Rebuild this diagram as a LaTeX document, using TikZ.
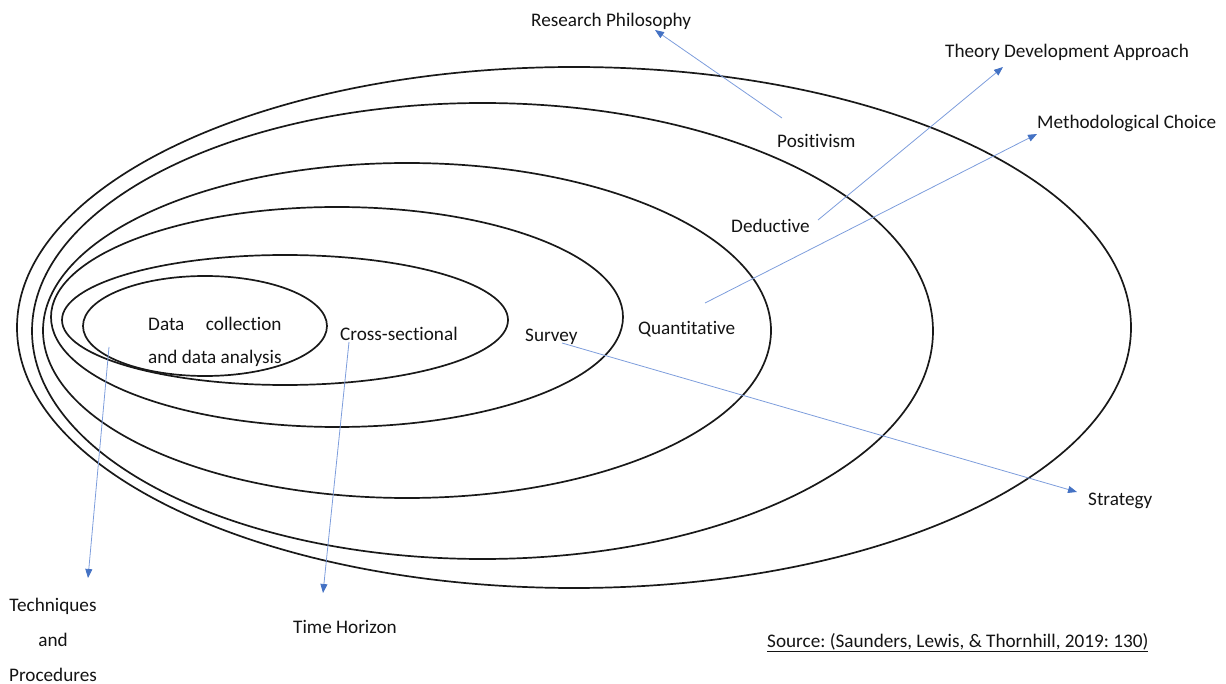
\documentclass[tikz,border=0pt]{standalone}
\usepackage{fontspec}
\setmainfont[Ligatures=NoCommon]{Carlito}
\usetikzlibrary{arrows.meta}
\definecolor{ringc}{RGB}{25,25,25}
\definecolor{arrc}{RGB}{125,157,220}
\definecolor{tipc}{RGB}{68,114,196}
\definecolor{txtc}{RGB}{20,20,20}
\tikzset{
  ring/.style={draw=ringc, line width=1.7pt},
  lbl/.style={font=\fontsize{19.2}{23}\selectfont, inner sep=0pt, anchor=base west, text=txtc},
  pointer/.style={draw=arrc, line width=0.8pt, -{Triangle[length=9pt,width=7pt,fill=tipc,color=tipc]}},
}
\frenchspacing
\begin{document}
\begin{tikzpicture}[x=1pt,y=-1pt]
\useasboundingbox (0,0) rectangle (1226,684);
% rings
\draw[ring] (574,327.5) ellipse [x radius=557pt, y radius=260.5pt];
\draw[ring] (482.5,331) ellipse [x radius=450.5pt, y radius=228pt];
\draw[ring] (407,330.5) ellipse [x radius=364pt, y radius=167.5pt];
\draw[ring] (337,317) ellipse [x radius=286pt, y radius=110pt];
\draw[ring] (285,320) ellipse [x radius=223pt, y radius=65pt];
\draw[ring] (205,326) ellipse [x radius=122pt, y radius=50pt];
% labels
\node[lbl] (rp) at (531,27) {Research Philosophy};
\node[lbl] (tda) at (945,58) {Theory Development Approach};
\node[lbl] (mc) at (1037,129) {Methodological Choice};
\node[lbl] (pos) at (777,148) {Positivism};
\node[lbl] (ded) at (731,233) {Deductive};
\node[lbl] (quant) at (638,335) {Quantitative};
\node[lbl] (surv) at (525,342) {Survey};
\node[lbl] (cross) at (340,341) {Cross-sectional};
\node[lbl, font=\fontsize{19.2}{33}\selectfont] (dc) at (148,331)
  {\begin{tabular}[t]{@{}l@{}}\setbox0\hbox{and data analysis}\hbox to \wd0{Data\hfill collection}\\and data analysis\end{tabular}};
\node[lbl, anchor=base, font=\fontsize{19.2}{35}\selectfont] (tech) at (53,611)
  {\begin{tabular}[t]{@{}c@{}}Techniques\\and\\Procedures\end{tabular}};
\node[lbl] (th) at (293,633) {Time Horizon};
\node[lbl] (strat) at (1088,505) {Strategy};
\node[lbl] (src) at (767,647) {\underline{Source: (Saunders, Lewis, \& Thornhill, 2019: 130)}};
% arrow ends
\coordinate (posS) at (782,118);
\coordinate (rpT) at (655,30);
\coordinate (dedS) at (818,220);
\coordinate (tdaT) at (1003,67);
\coordinate (quantS) at (705,303);
\coordinate (mcT) at (1037,134);
\coordinate (survS) at (562,343);
\coordinate (stratT) at (1077,492);
\coordinate (crossS) at (349,342);
\coordinate (thT) at (323,593);
\coordinate (dcS) at (109,347);
\coordinate (techT) at (88,578);
\draw[pointer] (posS) -- (rpT);
\draw[pointer] (dedS) -- (tdaT);
\draw[pointer] (quantS) -- (mcT);
\draw[pointer] (survS) -- (stratT);
\draw[pointer] (crossS) -- (thT);
\draw[pointer] (dcS) -- (techT);
\end{tikzpicture}
\end{document}
